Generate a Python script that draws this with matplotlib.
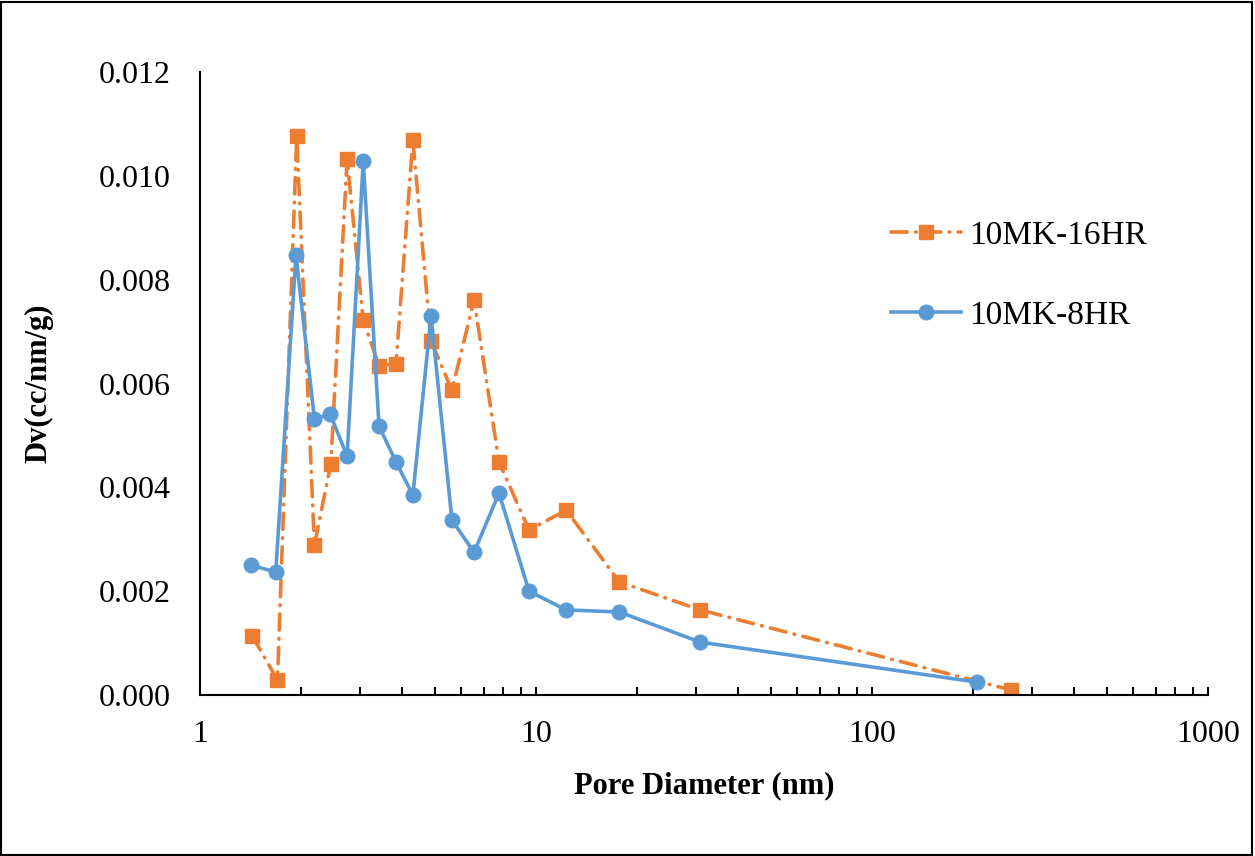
import numpy as np
import matplotlib.pyplot as plt
from matplotlib.patches import Rectangle
from matplotlib.ticker import FixedLocator, LogLocator, NullFormatter, FormatStrFormatter

plt.rcParams['font.family'] = ['Liberation Serif', 'DejaVu Serif']

# pore diameter (nm)
d8 = [1.42, 1.68, 1.93, 2.19, 2.44, 2.74, 3.06, 3.41, 3.83, 4.30, 4.87, 5.62,
      6.54, 7.76, 9.53, 12.3, 17.7, 30.8, 205]
d16 = [1.43, 1.70, 1.94, 2.19, 2.45, 2.74, 3.06, 3.41, 3.83, 4.30, 4.87, 5.62,
       6.54, 7.76, 9.53, 12.3, 17.7, 30.8, 259]

# Dv (cc/nm/g)
dv8 = [0.00250, 0.00237, 0.00847, 0.00532, 0.00541, 0.00460, 0.01028, 0.00518,
       0.00449, 0.00385, 0.00730, 0.00337, 0.00275, 0.00389, 0.00200, 0.00164,
       0.00160, 0.00102, 0.00025]
dv16 = [0.00114, 0.00029, 0.01077, 0.00289, 0.00445, 0.01032, 0.00722, 0.00634,
        0.00638, 0.01069, 0.00682, 0.00587, 0.00761, 0.00449, 0.00318, 0.00356,
        0.00218, 0.00164, 0.00010]

orange = '#ED7D31'
blue = '#5B9BD5'

fig = plt.figure(figsize=(12.55, 8.56), dpi=100)
ax = fig.add_axes([0.1594, 0.188, 0.9625 - 0.1594, 0.9159 - 0.188])

ax.plot(d16, dv16, color=orange, lw=2.6, ls=(0, (4.5, 2.3, 0.2, 2.3)),
        dash_capstyle='round', marker='s', ms=10, mec=orange, mfc=orange,
        label='10MK-16HR')
ax.plot(d8, dv8, color=blue, lw=2.6, marker='o', ms=10.5, mec=blue, mfc=blue,
        label='10MK-8HR')

ax.set_xscale('log')
ax.set_xlim(1, 1000)
ax.set_ylim(0, 0.012)
ax.yaxis.set_major_locator(FixedLocator(np.arange(0, 0.0121, 0.002)))
ax.yaxis.set_major_formatter(FormatStrFormatter('%.3f'))
ax.xaxis.set_major_locator(FixedLocator([1, 10, 100, 1000]))
ax.xaxis.set_major_formatter(FormatStrFormatter('%d'))
ax.xaxis.set_minor_locator(LogLocator(base=10, subs=np.arange(2, 10)))
ax.xaxis.set_minor_formatter(NullFormatter())

for s in ['top', 'right']:
    ax.spines[s].set_visible(False)
for s in ['left', 'bottom']:
    ax.spines[s].set_linewidth(1.5)

ax.tick_params(axis='x', which='both', direction='in', length=6, width=1.5,
               labelsize=23, pad=18)
ax.tick_params(axis='y', which='both', length=0, labelsize=23, pad=21)

ax.set_xlabel('Pore Diameter (nm)', fontsize=22, fontweight='bold', labelpad=16)
ax.set_ylabel('Dv(cc/nm/g)', fontsize=22, fontweight='bold', labelpad=33)

ax.legend(loc='upper left', bbox_to_anchor=(0.686, 0.778), bbox_transform=fig.transFigure,
          frameon=False, fontsize=24, handlelength=2.1, labelspacing=1.5,
          handletextpad=0.25)

fig.patches.append(Rectangle((0.001, 0.001), 0.997, 0.997, transform=fig.transFigure,
                             fill=False, edgecolor='black', lw=1.5))

fig.savefig('out.png', dpi=100)
